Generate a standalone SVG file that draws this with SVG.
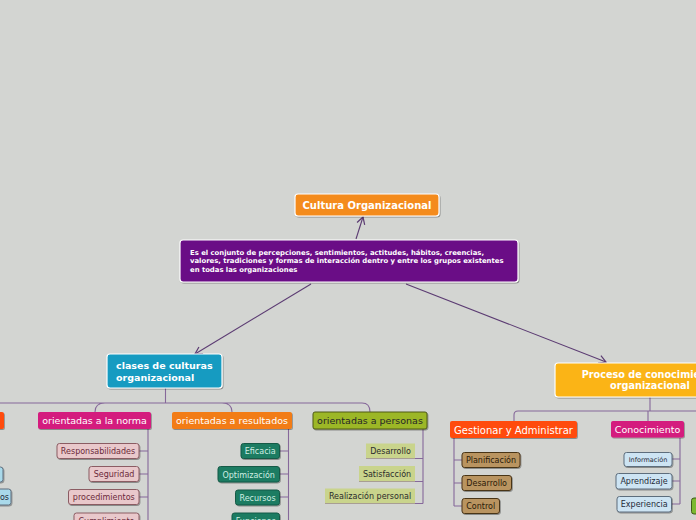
<svg xmlns="http://www.w3.org/2000/svg" width="696" height="520" viewBox="0 0 696 520">
<defs>
<filter id="sh" x="-10%" y="-20%" width="130%" height="160%"><feDropShadow dx="0.8" dy="1" stdDeviation="0.7" flood-color="#000" flood-opacity="0.35"/></filter>
<marker id="ah" markerWidth="10" markerHeight="10" refX="8" refY="5" orient="auto" markerUnits="userSpaceOnUse"><path d="M1,1 L8,5 L1,9" fill="none" stroke="#5c3c73" stroke-width="1.2"/></marker>
<style>
text{font-family:"DejaVu Sans","Verdana",sans-serif}
.main{stroke:#fff;stroke-width:1.2;filter:url(#sh)}
.tb{fill:#fff;font-weight:bold;font-size:9.5px}
.tw{fill:#fff;font-size:9.5px}
.con{fill:none;stroke:#86689a;stroke-width:1.1}
.arr{fill:none;stroke:#5c3c73;stroke-width:1.1;marker-end:url(#ah)}
.pk{fill:#e9c8cb;stroke:#8b5c63;stroke-width:1;filter:url(#sh)}
.pkt{fill:#6b2a3a;font-size:8px;text-anchor:middle}
.tl{fill:#1f7b62;stroke:#145a46;stroke-width:1;filter:url(#sh)}
.tlt{fill:#cfeee2;font-size:8px;text-anchor:middle}
.ol{fill:#c9d48c}
.olt{fill:#2b2b2b;font-size:8px;text-anchor:middle}
.tn{fill:#b99460;stroke:#4a3418;stroke-width:1;filter:url(#sh)}
.tnt{fill:#2a1a08;font-size:8px;text-anchor:middle}
.lb{fill:#cde4f3;stroke:#5d6d7c;stroke-width:1;filter:url(#sh)}
.lbt{fill:#1f2b38;font-size:8px;text-anchor:middle}
</style>
</defs>
<rect width="696" height="520" fill="#d3d5d2"/>

<g id="connectors">
<line class="arr" x1="356" y1="239" x2="363" y2="217"/>
<line class="arr" x1="311" y1="284" x2="195" y2="354"/>
<line class="arr" x1="406" y1="284" x2="606" y2="362"/>
<path class="con" d="M165.5,388 V403 M0,403 H362 Q370,403 370,412 M95,412 Q95,403 105,403 M232,412 Q232,403 222,403"/>
<path class="con" d="M148,429 V520 M139,451 H148 M139,474 H148 M139,497 H148"/>
<path class="con" d="M288.5,429 V520 M279.5,451 H288.5 M279.5,474 H288.5 M279.5,497 H288.5"/>
<path class="con" d="M423,429 V503.5 M366,458.5 H423 M359,481.5 H423 M325,503.5 H423"/>
<path class="con" d="M650,397 V411 M696,411 H518 Q514,411 514,415 V421 M648,411 V421"/>
<path class="con" d="M454,438 V506 M454,460 H462 M454,483 H462 M454,506 H462"/>
<path class="con" d="M680,438 V504 M672,459 H680 M672,481 H680 M672,504 H680"/>
</g>

<g id="cultura">
<rect class="main" x="295" y="194" width="144" height="22" rx="3" fill="#f48b1f"/>
<text x="367" y="209" text-anchor="middle" fill="#fff" font-weight="bold" font-size="10px">Cultura Organizacional</text>
</g>

<g id="definicion">
<rect class="main" x="180" y="240" width="338" height="42" rx="3" fill="#6b0b86"/>
<text fill="#fff" font-weight="bold" font-size="6.85px"><tspan x="190" y="254.5">Es el conjunto de percepciones, sentimientos, actitudes, hábitos, creencias,</tspan><tspan x="190" y="263.2">valores, tradiciones y formas de interacción dentro y entre los grupos existentes</tspan><tspan x="190" y="271.9">en todas las organizaciones</tspan></text>
</g>

<g id="clases">
<rect class="main" x="107" y="354" width="115" height="34" rx="3" fill="#139bc1"/>
<text class="tb"><tspan x="116" y="368.5">clases de culturas</tspan><tspan x="116" y="380.5">organizacional</tspan></text>
</g>

<g id="proceso">
<rect class="main" x="555" y="363" width="200" height="34" rx="3" fill="#fbb414"/>
<text class="tb" text-anchor="middle" style="font-size:9.7px"><tspan x="650" y="377.5">Proceso de conocimiento</tspan><tspan x="650" y="389">organizacional</tspan></text>
</g>

<g id="partial-left">
<rect x="-20" y="412" width="24" height="17" rx="2" fill="#ff4c10" filter="url(#sh)"/>
<rect class="lb" x="-20" y="467" width="23" height="15" rx="2.5" style="fill:#a9d9ea"/>
<rect class="lb" x="-30" y="489" width="41" height="16" rx="2.5" style="fill:#a9d9ea"/>
<text x="9" y="500" text-anchor="end" fill="#1f2b38" font-size="8px">os</text>
</g>

<g id="norma">
<rect x="38" y="412" width="113" height="17" rx="2" fill="#d41b7e" filter="url(#sh)"/>
<text class="tw" x="94.5" y="424" text-anchor="middle">orientadas a la norma</text>
</g>
<g id="responsabilidades"><rect class="pk" x="57" y="443.5" width="82" height="15" rx="2.5"/><text class="pkt" x="98" y="454">Responsabilidades</text></g>
<g id="seguridad"><rect class="pk" x="89" y="466.5" width="50" height="15" rx="2.5"/><text class="pkt" x="114" y="477">Seguridad</text></g>
<g id="procedimientos"><rect class="pk" x="68.5" y="489.5" width="70.5" height="15" rx="2.5"/><text class="pkt" x="103.8" y="500">procedimientos</text></g>
<g id="cumplimiento"><rect class="pk" x="74" y="513" width="65" height="15" rx="2.5"/><text class="pkt" x="106.5" y="523.5">Cumplimiento</text></g>

<g id="resultados">
<rect x="172" y="412" width="120" height="17" rx="2" fill="#f27b13" filter="url(#sh)"/>
<text class="tw" x="232" y="424" text-anchor="middle">orientadas a resultados</text>
</g>
<g id="eficacia"><rect class="tl" x="241" y="443.5" width="38.5" height="15" rx="2.5"/><text class="tlt" x="260.2" y="454">Eficacia</text></g>
<g id="optimizacion"><rect class="tl" x="218" y="466.5" width="61.5" height="15.5" rx="2.5"/><text class="tlt" x="248.7" y="477.5">Optimización</text></g>
<g id="recursos"><rect class="tl" x="235.5" y="490" width="44" height="15" rx="2.5"/><text class="tlt" x="257.5" y="500.5">Recursos</text></g>
<g id="funciones"><rect class="tl" x="232" y="513" width="47.5" height="15" rx="2.5"/><text class="tlt" x="255.7" y="523.5">Funciones</text></g>

<g id="personas">
<rect x="313" y="412" width="114" height="17" rx="2" fill="#9cb727" stroke="#4e5a18" stroke-width="1" filter="url(#sh)"/>
<text x="370" y="424" text-anchor="middle" fill="#262626" font-size="9.5px">orientadas a personas</text>
</g>
<g id="desarrollo-p"><rect class="ol" x="366" y="443.5" width="49" height="15"/><text class="olt" x="390.5" y="454">Desarrollo</text></g>
<g id="satisfaccion"><rect class="ol" x="359" y="466" width="56" height="15.5"/><text class="olt" x="387" y="476.5">Satisfacción</text></g>
<g id="realizacion"><rect class="ol" x="325" y="488.5" width="90" height="15"/><text class="olt" x="370" y="499">Realización personal</text></g>

<g id="gestionar">
<rect x="450" y="421" width="127" height="17" rx="2" fill="#ff4c10" filter="url(#sh)"/>
<text x="513.5" y="433.5" text-anchor="middle" fill="#fff" font-size="10px">Gestionar y Administrar</text>
</g>
<g id="planificacion"><rect class="tn" x="462" y="452.5" width="58" height="15" rx="2.5"/><text class="tnt" x="491" y="463">Planificación</text></g>
<g id="desarrollo-g"><rect class="tn" x="462" y="475.5" width="49.5" height="15" rx="2.5"/><text class="tnt" x="486.7" y="486">Desarrollo</text></g>
<g id="control"><rect class="tn" x="462" y="498.5" width="37.5" height="15" rx="2.5"/><text class="tnt" x="480.7" y="509">Control</text></g>

<g id="conocimiento">
<rect x="611" y="421" width="73" height="16.5" rx="2" fill="#d41b7e" filter="url(#sh)"/>
<text class="tw" x="647.5" y="433" text-anchor="middle">Conocimiento</text>
</g>
<g id="informacion"><rect class="lb" x="624" y="452.5" width="48" height="14" rx="2.5"/><text class="lbt" x="648" y="462" style="font-size:6.5px">Información</text></g>
<g id="aprendizaje"><rect class="lb" x="616" y="473.5" width="56" height="15.5" rx="2.5"/><text class="lbt" x="644" y="484">Aprendizaje</text></g>
<g id="experiencia"><rect class="lb" x="617" y="496.5" width="54.5" height="15.5" rx="2.5"/><text class="lbt" x="644.2" y="507">Experiencia</text></g>

<g id="partial-right">
<rect x="691.5" y="498" width="20" height="16" rx="2.5" fill="#7cb82f" stroke="#3e5a18" stroke-width="1"/>
</g>
</svg>
